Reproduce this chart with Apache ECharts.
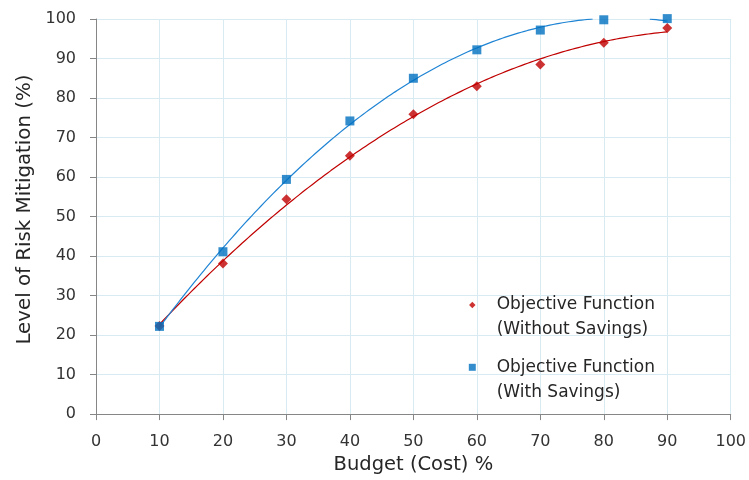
<!DOCTYPE html>
<html><head><meta charset="utf-8">
<script src="https://cdn.jsdelivr.net/npm/echarts@6/dist/echarts.min.js"></script>
<style>html,body{margin:0;padding:0;background:#fff}#c{width:749px;height:480px}</style>
</head><body><div id="c"></div>
<script>
// ---- data ----
const budget = [10, 20, 30, 40, 50, 60, 70, 80, 90];
const withoutSavings = [22.3, 38.1, 54.4, 65.4, 75.9, 83.0, 88.5, 94.0, 97.7];
const withSavings = [22.2, 41.1, 59.4, 74.2, 85.0, 92.2, 97.2, 99.8, 100.1];
const xTicks = [0, 10, 20, 30, 40, 50, 60, 70, 80, 90, 100];
const yTicks = [0, 10, 20, 30, 40, 50, 60, 70, 80, 90, 100];
const nameWithout = 'Objective Function (Without Savings)';
const nameWith = 'Objective Function (With Savings)';
const legendLines = {};
legendLines[nameWithout] = ['Objective Function', '(Without Savings)'];
legendLines[nameWith] = ['Objective Function', '(With Savings)'];

// 2nd-order polynomial least-squares trendline (as in the spreadsheet chart)
function quadFit(xs, ys) {
  let s0 = 0, s1 = 0, s2 = 0, s3 = 0, s4 = 0, t0 = 0, t1 = 0, t2 = 0;
  for (let i = 0; i < xs.length; i++) {
    const x = xs[i], y = ys[i];
    s0 += 1; s1 += x; s2 += x * x; s3 += x * x * x; s4 += x * x * x * x;
    t0 += y; t1 += x * y; t2 += x * x * y;
  }
  const M = [[s0, s1, s2, t0], [s1, s2, s3, t1], [s2, s3, s4, t2]];
  for (let c = 0; c < 3; c++) {
    let p = c;
    for (let r = c + 1; r < 3; r++) if (Math.abs(M[r][c]) > Math.abs(M[p][c])) p = r;
    [M[c], M[p]] = [M[p], M[c]];
    for (let r = 0; r < 3; r++) {
      if (r === c) continue;
      const f = M[r][c] / M[c][c];
      for (let k = c; k < 4; k++) M[r][k] -= f * M[c][k];
    }
  }
  return [M[0][3] / M[0][0], M[1][3] / M[1][1], M[2][3] / M[2][2]];
}
// samples of the fitted curve; parts above the axis maximum are hidden (plot-area clipping)
function trendPoints(xs, ys, yMax) {
  const [a, b, c] = quadFit(xs, ys);
  const out = [];
  const x0 = xs[0], x1 = xs[xs.length - 1];
  for (let x = x0; x <= x1 + 1e-9; x += 0.25) {
    const y = a + b * x + c * x * x;
    out.push(y > yMax ? [x, null] : [x, y]);
  }
  return out;
}
const pairs = (xs, ys) => xs.map((x, i) => [x, ys[i]]);

const FONT = 'DejaVu Sans';
const RED = '#C00000', BLUE = '#0070C0';
const chart = echarts.init(document.getElementById('c'), null, { renderer: 'canvas' });
const yMax = yTicks[yTicks.length - 1];

function legendCfg(name, icon, top, size) {
  return {
    data: [{ name: name, icon: icon }],
    left: 472.3 - size / 2, top: top, padding: 0,
    itemWidth: size, itemHeight: size,
    selectedMode: false,
    formatter: function (n) {
      return '{t| }\n' + legendLines[n].map(s => '{t|' + s + '}').join('\n');
    },
    textStyle: {
      fontFamily: FONT, fontSize: 17, color: '#262626', lineHeight: 25,
      rich: { t: { fontFamily: FONT, fontSize: 17, color: '#262626', lineHeight: 25, padding: [0, 0, 0, 19.4 - size / 2] } }
    }
  };
}

chart.setOption({
  animation: false,
  backgroundColor: '#ffffff',
  grid: { left: 96, right: 17, top: 19, bottom: 62, containLabel: false },
  legend: [
    legendCfg(nameWithout, 'diamond', 305 - 37.5, 6.5),
    legendCfg(nameWith, 'rect', 367.3 - 37.5, 7)
  ],
  xAxis: {
    type: 'value', min: xTicks[0], max: xTicks[xTicks.length - 1], interval: xTicks[1] - xTicks[0],
    name: 'Budget (Cost) %', nameLocation: 'middle', nameGap: 40,
    nameTextStyle: { fontFamily: FONT, fontSize: 19.5, color: '#262626' },
    axisLine: { show: true, lineStyle: { color: '#868686', width: 1 } },
    axisTick: { show: true, inside: false, length: 6, lineStyle: { color: '#868686' } },
    axisLabel: { margin: 20, fontFamily: FONT, fontSize: 16, color: '#333333' },
    splitLine: { show: true, lineStyle: { color: '#d8ebf3', width: 1 } }
  },
  yAxis: {
    type: 'value', min: yTicks[0], max: yMax, interval: yTicks[1] - yTicks[0],
    name: 'Level of Risk Mitigation (%)', nameLocation: 'middle', nameGap: 60,
    nameTextStyle: { fontFamily: FONT, fontSize: 19.8, color: '#262626', padding: [0, 0, 0, 14] },
    axisLine: { show: true, lineStyle: { color: '#868686', width: 1 } },
    axisTick: { show: true, inside: false, length: 6, lineStyle: { color: '#868686' } },
    axisLabel: { margin: 20, fontFamily: FONT, fontSize: 16, color: '#333333' },
    splitLine: { show: true, lineStyle: { color: '#d8ebf3', width: 1 } }
  },
  series: [
    {
      name: 'trend-without', type: 'line', data: trendPoints(budget, withoutSavings, yMax),
      showSymbol: false, smooth: false, silent: true, clip: true, connectNulls: false, z: 2,
      lineStyle: { color: RED, width: 1.2 }, itemStyle: { color: RED }
    },
    {
      name: 'trend-with', type: 'line', data: trendPoints(budget, withSavings, yMax),
      showSymbol: false, smooth: false, silent: true, clip: true, connectNulls: false, z: 2,
      lineStyle: { color: '#1f84d4', width: 1.2 }, itemStyle: { color: BLUE }
    },
    {
      name: nameWithout, type: 'scatter', data: pairs(budget, withoutSavings),
      symbol: 'diamond', symbolSize: 10, itemStyle: { color: RED }, z: 3, clip: false
    },
    {
      name: nameWith, type: 'scatter', data: pairs(budget, withSavings),
      symbol: 'rect', symbolSize: 9, itemStyle: { color: BLUE }, z: 4, clip: false
    }
  ]
});
</script>
</body></html>
